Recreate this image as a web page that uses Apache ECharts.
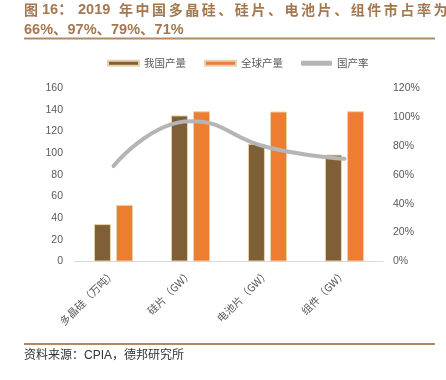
<!DOCTYPE html>
<html><head><meta charset="utf-8">
<script src="https://cdn.jsdelivr.net/npm/echarts@6/dist/echarts.min.js"></script>
<style>html,body{margin:0;padding:0;background:#fff}#c{width:446px;height:380px}</style>
</head><body><div id="c"></div>
<script>
const categories = ['多晶硅（万吨）', '硅片（GW）', '电池片（GW）', '组件（GW）'];
const chinaOutput = [34.5, 134.7, 108.6, 98.6];
const globalOutput = [52.2, 138.5, 138.3, 138.6];
const chinaShare = [0.66, 0.97, 0.79, 0.71];
const leftTicks = [0, 20, 40, 60, 80, 100, 120, 140, 160];
const seriesNames = ['我国产量', '全球产量', '国产率'];

const titleRun = '年中国多晶硅、硅片、电池片、组件市占率为';
const t2 = '66%、97%、79%、71%';

const chart = echarts.init(document.getElementById('c'));
const font = '"Liberation Sans", Arial, "Noto Sans CJK SC", sans-serif';
const cjk = '"Noto Sans CJK SC", sans-serif';
const tc = '#a3784e';
const graphics = [
  { type: 'text', left: 24, top: 3, style: { text: '图', font: 'bold 14px ' + cjk, fill: tc } },
  { type: 'text', left: 42, top: 3, style: { text: '16：', font: 'bold 14.5px ' + font, fill: tc } },
  { type: 'text', left: 78, top: 3, style: { text: '2019', font: 'bold 14.5px ' + font, fill: tc } },
  { type: 'text', left: 24, top: 23, style: { text: t2, font: 'bold 14.5px ' + font, fill: tc } },
  { type: 'rect', shape: { x: 24, y: 37.5, width: 411, height: 2 }, style: { fill: '#b08a66' } },
  { type: 'rect', shape: { x: 24, y: 343, width: 411, height: 2 }, style: { fill: '#b08a66' } },
  { type: 'text', left: 24, top: 350, style: { text: '资料来源：CPIA，德邦研究所', font: '12px ' + font, fill: '#333' } }
];
titleRun.split('').forEach((ch, i) => {
  graphics.push({ type: 'text', left: 119 + i * 16.55, top: 3, style: { text: ch, font: 'bold 14px ' + cjk, fill: tc } });
});
chart.setOption({
  animation: false,
  textStyle: { fontFamily: font },
  graphic: graphics,
  legend: {
    top: 53, left: 102,
    itemWidth: 31, itemHeight: 5, itemGap: 18,
    textStyle: { fontSize: 10.5, color: '#595959', fontFamily: cjk },
    data: [
      { name: seriesNames[0], icon: 'rect' },
      { name: seriesNames[1], icon: 'rect' },
      { name: seriesNames[2], icon: 'roundRect' }
    ]
  },
  grid: { left: 75, right: 63, top: 88, bottom: 118.5 },
  xAxis: {
    type: 'category', data: categories,
    axisLine: { lineStyle: { color: '#d9d9d9', width: 1 } },
    axisTick: { show: false },
    axisLabel: { rotate: 45, fontSize: 10.5, color: '#595959', margin: 10, interval: 0, fontFamily: cjk }
  },
  yAxis: [
    { type: 'value', min: 0, max: 160, interval: 20,
      axisLine: { show: false }, axisTick: { show: false }, splitLine: { show: false },
      axisLabel: { fontSize: 10.5, color: '#595959', margin: 12 } },
    { type: 'value', min: 0, max: 1.2, interval: 0.2,
      axisLine: { show: false }, axisTick: { show: false }, splitLine: { show: false },
      axisLabel: { fontSize: 10.5, color: '#595959', margin: 10, formatter: v => Math.round(v * 100) + '%' } }
  ],
  series: [
    { name: seriesNames[0], type: 'bar', data: chinaOutput, barWidth: 17, barGap: '30%',
      itemStyle: { color: '#7f5f35', borderColor: '#e6d3ae', borderWidth: 1 } },
    { name: seriesNames[1], type: 'bar', data: globalOutput, barWidth: 17,
      itemStyle: { color: '#ed7d31', borderColor: '#e6d3ae', borderWidth: 1 } },
    { name: seriesNames[2], type: 'line', yAxisIndex: 1, data: chinaShare, smooth: 0.5,
      symbol: 'none', lineStyle: { color: '#b5b5b5', width: 4, cap: 'round' }, itemStyle: { color: '#b5b5b5' } }
  ]
});
</script></body></html>
